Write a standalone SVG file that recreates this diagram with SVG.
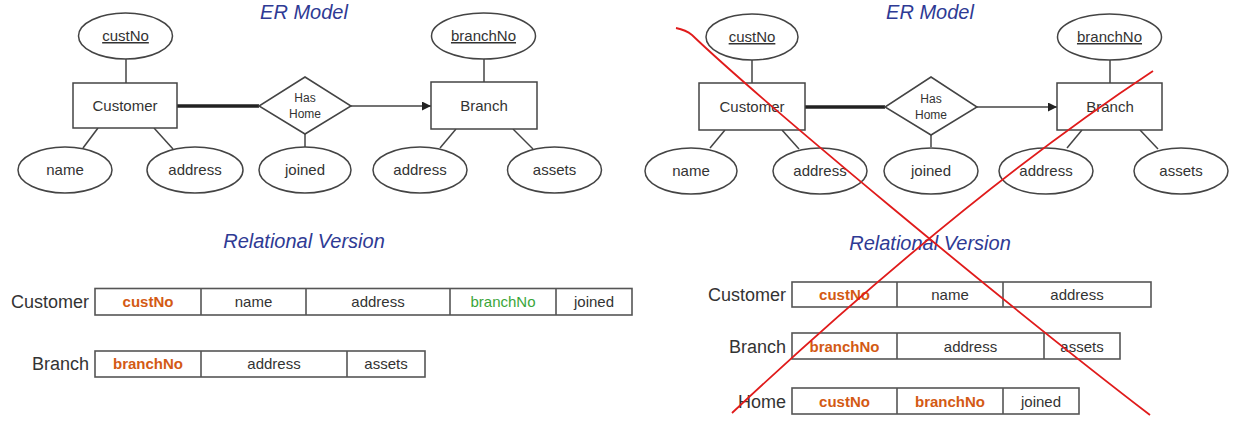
<svg xmlns="http://www.w3.org/2000/svg" width="1235" height="421" viewBox="0 0 1235 421">
<style>
  text { font-family: "Liberation Sans", Arial, sans-serif; fill: #333; }
  .title { font-size: 20px; font-style: italic; fill: #2e3a94; text-anchor: middle; }
  .lbl { font-size: 15px; text-anchor: middle; }
  .small { font-size: 12px; text-anchor: middle; }
  .key { text-decoration: underline; }
  .shape { fill: #fff; stroke: #444; stroke-width: 1.5; }
  .cell { fill: #fff; stroke: #555; stroke-width: 1.6; }
  .div { stroke: #555; stroke-width: 1.6; }
  .tname { font-size: 18px; text-anchor: end; }
  .pk { font-size: 15px; font-weight: bold; fill: #d35a14; text-anchor: middle; }
  .fk { font-size: 15px; fill: #3aa63a; text-anchor: middle; }
  .conn { stroke: #444; stroke-width: 1.5; fill: none; }
  .thick { stroke: #222; stroke-width: 3.5; fill: none; }
  .red { stroke: #e01b1b; stroke-width: 1.8; fill: none; }
</style>
<defs>
  <marker id="arr" viewBox="0 0 10 10" refX="10" refY="5" markerWidth="12" markerHeight="9" markerUnits="userSpaceOnUse" orient="auto">
    <path d="M0,0 L10,5 L0,10 z" fill="#222"/>
  </marker>
</defs>
<rect width="1235" height="421" fill="#fff"/>

<!-- Left ER model -->
<text class="title" x="304" y="19">ER Model</text>
<g id="connectors-left">
  <line class="conn" x1="126" y1="59" x2="126" y2="83"/>
  <line class="conn" x1="484" y1="59" x2="484" y2="82"/>
  <line class="thick" x1="177" y1="106" x2="259" y2="106"/>
  <line class="conn" x1="351" y1="106" x2="431" y2="106" marker-end="url(#arr)"/>
  <line class="conn" x1="305" y1="134" x2="305" y2="147"/>
  <line class="conn" x1="98" y1="128" x2="83" y2="148"/>
  <line class="conn" x1="154" y1="128" x2="173" y2="149"/>
  <line class="conn" x1="456" y1="129" x2="440" y2="148"/>
  <line class="conn" x1="513" y1="129" x2="533" y2="149"/>
</g>
<g id="L-custNo"><ellipse class="shape" cx="125.5" cy="36" rx="47" ry="23"/><text class="lbl key" x="125.5" y="41">custNo</text></g>
<g id="L-Customer"><rect class="shape" x="73" y="83" width="104" height="45"/><text class="lbl" x="125" y="111">Customer</text></g>
<g id="L-HasHome"><polygon class="shape" points="305,77 351,106 305,134 259,106"/><text class="small" x="305" y="102">Has</text><text class="small" x="305" y="118">Home</text></g>
<g id="L-Branch"><rect class="shape" x="431" y="82" width="106" height="47"/><text class="lbl" x="484" y="111">Branch</text></g>
<g id="L-branchNo"><ellipse class="shape" cx="483.5" cy="36" rx="52" ry="23"/><text class="lbl key" x="483.5" y="41">branchNo</text></g>
<g id="L-name"><ellipse class="shape" cx="65" cy="170" rx="47" ry="23"/><text class="lbl" x="65" y="175">name</text></g>
<g id="L-address"><ellipse class="shape" cx="195" cy="170" rx="48" ry="23"/><text class="lbl" x="195" y="175">address</text></g>
<g id="L-joined"><ellipse class="shape" cx="305" cy="170" rx="46" ry="23"/><text class="lbl" x="305" y="175">joined</text></g>
<g id="L-baddress"><ellipse class="shape" cx="420" cy="170" rx="47" ry="23"/><text class="lbl" x="420" y="175">address</text></g>
<g id="L-assets"><ellipse class="shape" cx="554.5" cy="170" rx="47" ry="23"/><text class="lbl" x="554.5" y="175">assets</text></g>

<!-- Left relational -->
<text class="title" x="304" y="248">Relational Version</text>
<g id="L-rel-Customer">
  <text class="tname" x="89" y="308">Customer</text>
  <rect class="cell" x="95" y="288.5" width="537" height="26.5"/>
  <line class="div" x1="201" y1="288.5" x2="201" y2="315"/>
  <line class="div" x1="306" y1="288.5" x2="306" y2="315"/>
  <line class="div" x1="450" y1="288.5" x2="450" y2="315"/>
  <line class="div" x1="556" y1="288.5" x2="556" y2="315"/>
  <text class="pk" x="148" y="307">custNo</text>
  <text class="lbl" x="253.5" y="307">name</text>
  <text class="lbl" x="378" y="307">address</text>
  <text class="fk" x="503" y="307">branchNo</text>
  <text class="lbl" x="594" y="307">joined</text>
</g>
<g id="L-rel-Branch">
  <text class="tname" x="89" y="370">Branch</text>
  <rect class="cell" x="95" y="351" width="330" height="26"/>
  <line class="div" x1="201" y1="351" x2="201" y2="377"/>
  <line class="div" x1="347" y1="351" x2="347" y2="377"/>
  <text class="pk" x="148" y="369">branchNo</text>
  <text class="lbl" x="274" y="369">address</text>
  <text class="lbl" x="386" y="369">assets</text>
</g>

<!-- Right ER model -->
<text class="title" x="930" y="19">ER Model</text>
<g id="connectors-right">
  <line class="conn" x1="752" y1="60" x2="752" y2="83"/>
  <line class="conn" x1="1110" y1="60" x2="1110" y2="83"/>
  <line class="thick" x1="805" y1="107" x2="885" y2="107"/>
  <line class="conn" x1="977" y1="107" x2="1057" y2="107" marker-end="url(#arr)"/>
  <line class="conn" x1="931" y1="135" x2="931" y2="147"/>
  <line class="conn" x1="725" y1="130" x2="710" y2="148"/>
  <line class="conn" x1="782" y1="130" x2="799" y2="149"/>
  <line class="conn" x1="1082" y1="130" x2="1067" y2="148"/>
  <line class="conn" x1="1140" y1="130" x2="1158" y2="149"/>
</g>
<g id="R-custNo"><ellipse class="shape" cx="752" cy="37" rx="46" ry="23"/><text class="lbl key" x="752" y="42">custNo</text></g>
<g id="R-Customer"><rect class="shape" x="699" y="83" width="106" height="47"/><text class="lbl" x="752" y="112">Customer</text></g>
<g id="R-HasHome"><polygon class="shape" points="931,77 977,107 931,135 885,107"/><text class="small" x="931" y="103">Has</text><text class="small" x="931" y="119">Home</text></g>
<g id="R-Branch"><rect class="shape" x="1057" y="83" width="105" height="47"/><text class="lbl" x="1110" y="112">Branch</text></g>
<g id="R-branchNo"><ellipse class="shape" cx="1109.5" cy="37" rx="52" ry="23"/><text class="lbl key" x="1109.5" y="42">branchNo</text></g>
<g id="R-name"><ellipse class="shape" cx="691" cy="171" rx="46" ry="23"/><text class="lbl" x="691" y="176">name</text></g>
<g id="R-address"><ellipse class="shape" cx="820" cy="171" rx="47" ry="23"/><text class="lbl" x="820" y="176">address</text></g>
<g id="R-joined"><ellipse class="shape" cx="931" cy="171" rx="47" ry="23"/><text class="lbl" x="931" y="176">joined</text></g>
<g id="R-baddress"><ellipse class="shape" cx="1046" cy="171" rx="47" ry="23"/><text class="lbl" x="1046" y="176">address</text></g>
<g id="R-assets"><ellipse class="shape" cx="1181" cy="171" rx="47" ry="23"/><text class="lbl" x="1181" y="176">assets</text></g>

<!-- Right relational -->
<text class="title" x="930" y="250">Relational Version</text>
<g id="R-rel-Customer">
  <text class="tname" x="786" y="301">Customer</text>
  <rect class="cell" x="792" y="282" width="359" height="25"/>
  <line class="div" x1="897" y1="282" x2="897" y2="307"/>
  <line class="div" x1="1003" y1="282" x2="1003" y2="307"/>
  <text class="pk" x="844.5" y="300">custNo</text>
  <text class="lbl" x="950" y="300">name</text>
  <text class="lbl" x="1077" y="300">address</text>
</g>
<g id="R-rel-Branch">
  <text class="tname" x="786" y="353">Branch</text>
  <rect class="cell" x="792" y="333" width="328" height="26"/>
  <line class="div" x1="897" y1="333" x2="897" y2="359"/>
  <line class="div" x1="1044" y1="333" x2="1044" y2="359"/>
  <text class="pk" x="844.5" y="352">branchNo</text>
  <text class="lbl" x="970.5" y="352">address</text>
  <text class="lbl" x="1082" y="352">assets</text>
</g>
<g id="R-rel-Home">
  <text class="tname" x="786" y="408">Home</text>
  <rect class="cell" x="792" y="388" width="287" height="26"/>
  <line class="div" x1="897" y1="388" x2="897" y2="414"/>
  <line class="div" x1="1003" y1="388" x2="1003" y2="414"/>
  <text class="pk" x="844.5" y="407">custNo</text>
  <text class="pk" x="950" y="407">branchNo</text>
  <text class="lbl" x="1041" y="407">joined</text>
</g>

<!-- Red cross -->
<g id="red-cross">
  <path class="red" d="M676,28 Q686,30 692,35 C760,100 1000,300 1150,415"/>
  <path class="red" d="M1153,71 Q965,195 732,413"/>
</g>
</svg>
